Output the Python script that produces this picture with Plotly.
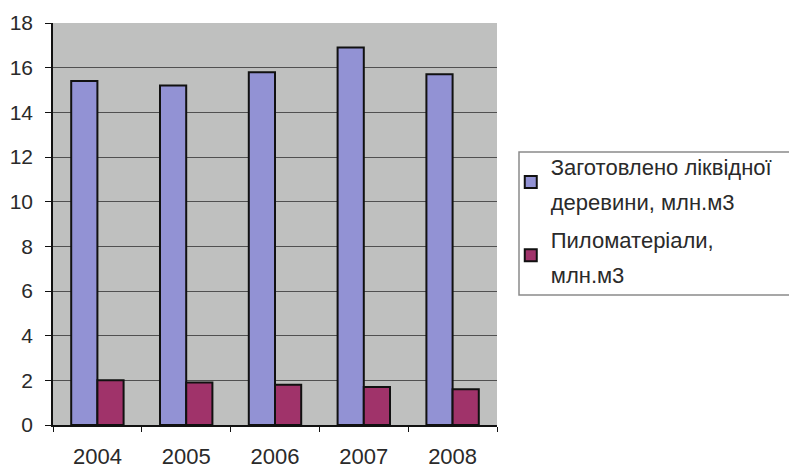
import plotly.graph_objects as go

# Timber output by year
years = ["2004", "2005", "2006", "2007", "2008"]
harvested = [15.4, 15.2, 15.8, 16.9, 15.7]   # liquid wood harvested, mln m3
lumber = [2.0, 1.9, 1.8, 1.7, 1.6]           # sawn timber, mln m3

series_names = [
    ["Заготовлено ліквідної", "деревини, млн.м3"],
    ["Пиломатеріали,", "млн.м3"],
]
series_colors = ["#9292d4", "#a0336a"]

FONT = "Liberation Sans, Arial, sans-serif"


def legend_label(lines):
    return "<br>".join(f"<span style='font-size:22px'>{ln}</span>" for ln in lines)


fig = go.Figure()
for values, lines, color in zip([harvested, lumber], series_names, series_colors):
    fig.add_trace(go.Bar(
        x=years, y=values, name=legend_label(lines),
        marker=dict(color=color, line=dict(color="#111111", width=2)),
    ))

fig.update_layout(
    width=789, height=470,
    margin=dict(l=53, r=292, t=23, b=45, autoexpand=False),
    paper_bgcolor="white",
    plot_bgcolor="#bfc0bf",
    barmode="group", bargap=0.41, bargroupgap=0,
    font=dict(family=FONT, color="#2a2a2a"),
    showlegend=True,
    legend=dict(
        x=1.031, xanchor="left", y=0.708, yanchor="top",
        font=dict(family=FONT, size=27, color="#2a2a2a"),
        bgcolor="rgba(0,0,0,0)", borderwidth=0,
        itemwidth=30, tracegroupgap=0,
    ),
    shapes=[dict(
        type="rect", xref="paper", yref="paper",
        x0=(519 - 53) / 444, x1=1.7, y0=(425 - 295) / 402, y1=(425 - 152) / 402,
        line=dict(color="#8a8a8a", width=1.5), fillcolor="rgba(0,0,0,0)", layer="below",
    )],
)

fig.update_xaxes(
    showgrid=False, showline=True, linecolor="#111111", linewidth=1.5,
    ticks="outside", tickson="boundaries", ticklen=5, tickcolor="#111111",
    tickfont=dict(size=22, family=FONT, color="#2a2a2a"),
    ticklabelstandoff=11,
)
fig.update_yaxes(
    range=[0, 18], dtick=2, showgrid=True, gridcolor="#505050", gridwidth=1,
    showline=True, linecolor="#111111", linewidth=1.5,
    ticks="outside", ticklen=6, tickcolor="#111111",
    tickfont=dict(size=21, family=FONT, color="#2a2a2a"),
    ticklabelstandoff=8, zeroline=False,
)

fig.write_html("out.html")
